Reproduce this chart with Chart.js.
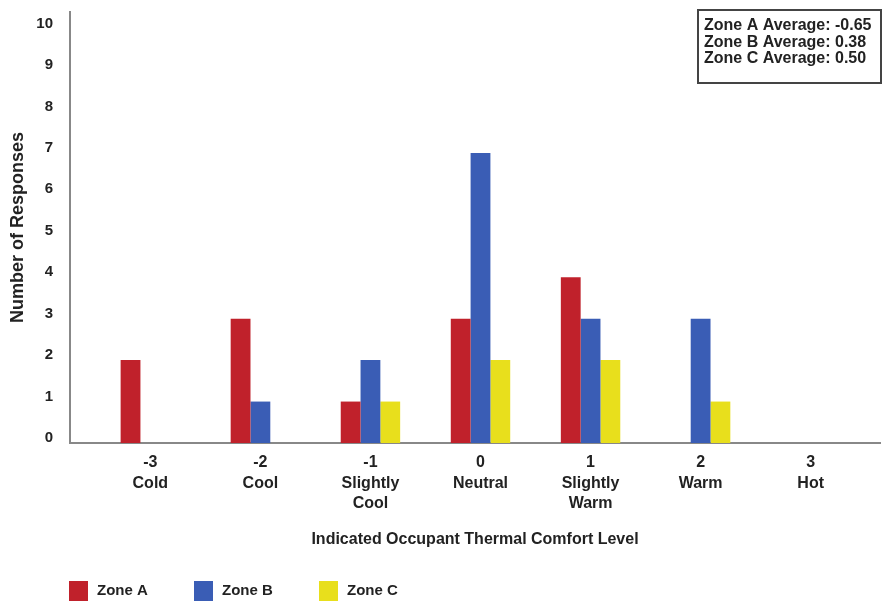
<!DOCTYPE html>
<html>
<head>
<meta charset="utf-8">
<script src="https://cdn.jsdelivr.net/npm/chart.js@4/dist/chart.umd.min.js"></script>
<style>
  html, body { margin: 0; padding: 0; background: #fff; }
  #wrap { width: 883px; height: 605px; }
</style>
</head>
<body>
<div id="wrap"><canvas id="chart" width="883" height="605"></canvas></div>
<script>
// Comfort scale levels and their names
const levels = [-3, -2, -1, 0, 1, 2, 3];
const levelNames = ['Cold', 'Cool', 'Slightly Cool', 'Neutral', 'Slightly Warm', 'Warm', 'Hot'];

// Responses per zone
const zoneA = [2, 3, 1, 3, 4, 0, 0];
const zoneB = [0, 1, 2, 7, 3, 3, 0];
const zoneC = [0, 0, 1, 2, 2, 1, 0];

const zoneNames = ['Zone A', 'Zone B', 'Zone C'];
const zoneAverages = ['-0.65', '0.38', '0.50'];

const FONT = "'Liberation Sans', Arial, sans-serif";
const TEXT = '#222';

// Legend drawn along the bottom
const bottomLegend = {
  id: 'bottomLegend',
  afterDraw(chart) {
    const ctx = chart.ctx;
    ctx.save();
    ctx.font = 'bold 15px ' + FONT;
    ctx.textBaseline = 'middle';
    let x = 69;
    const y = 591;
    chart.data.datasets.forEach(ds => {
      ctx.fillStyle = ds.backgroundColor;
      ctx.fillRect(x, y - 10, 19, 20);
      ctx.fillStyle = TEXT;
      ctx.fillText(ds.label, x + 28, y);
      x += 125;
    });
    ctx.restore();
  }
};

// Box with zone averages, top right
const averagesBox = {
  id: 'averagesBox',
  afterDraw(chart) {
    const ctx = chart.ctx;
    ctx.save();
    ctx.strokeStyle = '#444';
    ctx.lineWidth = 2;
    ctx.fillStyle = '#fff';
    ctx.fillRect(698, 10, 183, 73);
    ctx.strokeRect(698, 10, 183, 73);
    ctx.font = 'bold 16px ' + FONT;
    ctx.fillStyle = TEXT;
    ctx.textBaseline = 'middle';
    zoneNames.forEach((name, i) => {
      ctx.fillText(name + ' Average: ' + zoneAverages[i], 704, 26 + i * 16.5);
    });
    ctx.restore();
  }
};

const ctx = document.getElementById('chart').getContext('2d');
new Chart(ctx, {
  type: 'bar',
  data: {
    labels: levels,
    datasets: [
      { label: zoneNames[0], data: zoneA, backgroundColor: '#c0212b' },
      { label: zoneNames[1], data: zoneB, backgroundColor: '#3a5db5' },
      { label: zoneNames[2], data: zoneC, backgroundColor: '#e8df1c' }
    ]
  },
  options: {
    responsive: false,
    animation: false,
    barPercentage: 1,
    categoryPercentage: 0.54,
    layout: { padding: { top: 12, right: 3, left: 0, bottom: 56 } },
    plugins: {
      legend: { display: false },
      tooltip: { enabled: false }
    },
    scales: {
      x: {
        type: 'linear',
        offset: false,
        min: -3.73,
        max: 3.63,
        grid: { display: false },
        border: { color: '#888', width: 2 },
        ticks: {
          stepSize: 1,
          includeBounds: false,
          autoSkip: false,
          maxRotation: 0,
          padding: 1,
          color: TEXT,
          font: { family: FONT, size: 16, weight: 'bold', lineHeight: 1.3 },
          callback: function(value) {
            const i = levels.indexOf(value);
            if (i < 0) return '';
            return [String(value)].concat(levelNames[i].split(' '));
          }
        },
        title: {
          display: true,
          text: 'Indicated Occupant Thermal Comfort Level',
          color: TEXT,
          font: { family: FONT, size: 16, weight: 'bold' },
          padding: { top: 4, bottom: 0 }
        },
        afterFit: scale => { scale.height = 106; }
      },
      y: {
        min: 0,
        max: 10.4,
        grid: { display: false },
        border: { color: '#888', width: 2 },
        ticks: {
          stepSize: 1,
          includeBounds: false,
          padding: 9,
          labelOffset: -5,
          color: TEXT,
          font: { family: FONT, size: 15, weight: 'bold' },
          callback: v => Number.isInteger(v) ? v : ''
        },
        title: {
          display: true,
          text: 'Number of Responses',
          color: TEXT,
          font: { family: FONT, size: 18, weight: 'bold' },
          padding: { top: 7, bottom: 0 }
        },
        afterFit: scale => {
          scale.width = 70;
          scale.paddingTop = 0;
          scale.paddingBottom = 0;
        }
      }
    }
  },
  plugins: [bottomLegend, averagesBox]
});
</script>
</body>
</html>
